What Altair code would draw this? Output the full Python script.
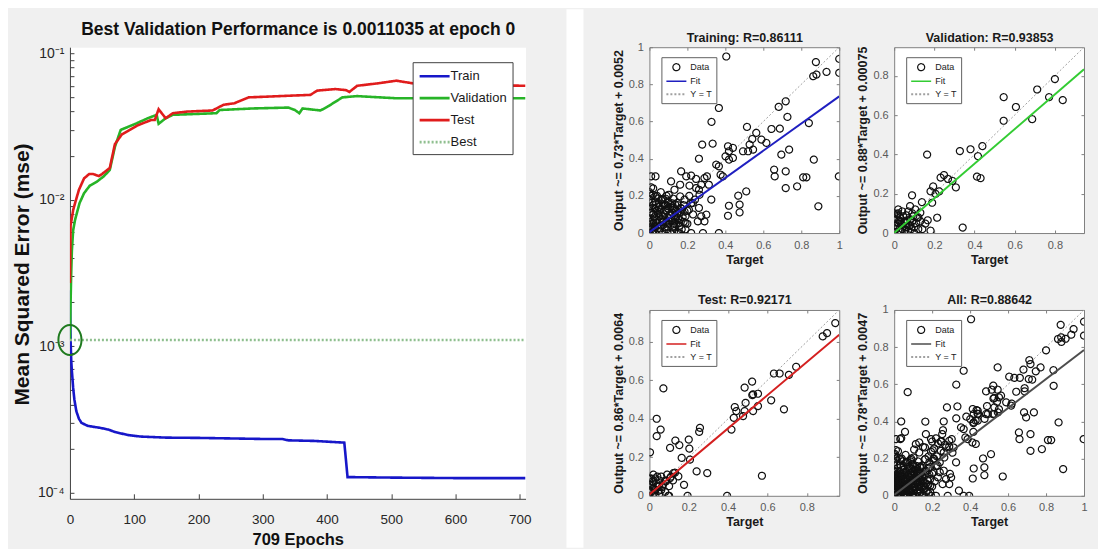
import altair as alt
import pandas as pd

SANS = "Liberation Sans, Arial, sans-serif"

# ---------------- performance panel data ----------------
train_epoch = [0, 1, 2, 3, 5, 7, 10, 14, 18, 28, 48, 60, 70, 90, 110, 150, 200, 250, 300, 330,
               340, 380, 427, 432, 500, 600, 709]
train_mse = [2.4e-3, 1.1e-3, 8.0e-4, 6.8e-4, 5.2e-4, 4.3e-4, 3.6e-4, 3.2e-4, 3.0e-4, 2.86e-4,
             2.77e-4, 2.7e-4, 2.6e-4, 2.48e-4, 2.42e-4, 2.38e-4, 2.37e-4, 2.35e-4, 2.33e-4, 2.33e-4,
             2.28e-4, 2.26e-4, 2.2e-4, 1.28e-4, 1.27e-4, 1.26e-4, 1.26e-4]
val_epoch = [0, 1, 2, 3, 5, 8, 12, 15, 22, 31, 42, 53, 62, 70, 79, 87, 104, 121, 135, 138,
             149, 160, 228, 233, 284, 340, 350, 357, 362, 390, 402, 424, 447, 508, 600, 709]
val_mse = [1.1035e-3, 2.0e-3, 3.2e-3, 4.5e-3, 6.2e-3, 7.3e-3, 8.5e-3, 9.5e-3, 1.11e-2, 1.25e-2,
           1.33e-2, 1.45e-2, 1.6e-2, 2.3e-2, 3.0e-2, 3.1e-2, 3.33e-2, 3.6e-2, 3.8e-2, 3.3e-2,
           3.6e-2, 3.8e-2, 3.9e-2, 4.1e-2, 4.2e-2, 4.26e-2, 4.1e-2, 3.9e-2, 4.2e-2, 4.07e-2,
           4.35e-2, 5.0e-2, 5.1e-2, 4.93e-2, 4.95e-2, 4.93e-2]
test_epoch = [0, 1, 3, 5, 8, 14, 22, 30, 36, 45, 50, 62, 70, 81, 93, 104, 126, 132, 138, 149,
              160, 183, 222, 239, 256, 278, 312, 340, 374, 385, 413, 430, 435, 447, 480, 508, 537, 600, 709]
test_mse = [2.7e-3, 6.7e-3, 7.5e-3, 8.5e-3, 9.5e-3, 1.17e-2, 1.4e-2, 1.5e-2, 1.5e-2, 1.45e-2,
            1.5e-2, 1.65e-2, 2.4e-2, 2.8e-2, 3.0e-2, 3.2e-2, 3.5e-2, 3.5e-2, 4.15e-2, 3.6e-2,
            3.9e-2, 4.0e-2, 4.07e-2, 4.45e-2, 4.56e-2, 5.0e-2, 5.07e-2, 5.13e-2, 5.2e-2, 5.56e-2,
            5.7e-2, 5.6e-2, 5.45e-2, 6.0e-2, 6.24e-2, 6.5e-2, 6.2e-2, 6.1e-2, 6.0e-2]
best_epoch = 0
best_perf = 0.0011035
last_epoch = 709

perf_series = ["Train", "Validation", "Test", "Best"]
perf_colors = ["#1717c9", "#27b427", "#e01c1c", "#8fbf8f"]
perf_dash = [[1, 0], [1, 0], [1, 0], [2, 2]]
perf_widths = [2.6, 2.6, 2.6, 1]
perf_title = "Best Validation Performance is 0.0011035 at epoch 0"
perf_xtitle = "709 Epochs"
perf_ytitle = "Mean Squared Error  (mse)"
perf_xticks = [0, 100, 200, 300, 400, 500, 600, 700]
perf_yticks = [1e-4, 1e-3, 1e-2, 1e-1]
perf_yexp = [-4, -3, -2, -1]
perf_ylabels = ["10\u207b\u2074", "10\u207b\u00b3", "10\u207b\u00b2", "10\u207b\u00b9"]
perf_yminor = [k * 10.0 ** d for d in (-4, -3, -2) for k in range(1, 10)] + [0.1]

# ---------------- regression panel data ----------------
train_pts = [
    (0.405, 0.95), (1.0, 0.937), (1.0, 0.862), (0.877, 0.92), (0.933, 0.867), (0.88, 0.853), (0.863, 0.844),
    (0.366, 0.673), (0.718, 0.709), (0.681, 0.679), (0.727, 0.625), (0.643, 0.56), (0.687, 0.562), (0.84, 0.592),
    (0.327, 0.598), (0.514, 0.571), (0.563, 0.539), (0.616, 0.485), (0.59, 0.503), (0.542, 0.506), (0.528, 0.476),
    (0.52, 0.44), (0.493, 0.44), (0.546, 0.449), (0.414, 0.467), (0.419, 0.44), (0.44, 0.458), (0.401, 0.413),
    (0.419, 0.395), (0.44, 0.404), (0.333, 0.481), (0.278, 0.476), (0.261, 0.4), (0.736, 0.449), (0.695, 0.422),
    (0.866, 0.395), (0.657, 0.341), (0.66, 0.305), (0.718, 0.332), (0.827, 0.3), (0.81, 0.3), (0.998, 0.305),
    (0.778, 0.251), (0.718, 0.242), (0.89, 0.144), (0.468, 0.201), (0.51, 0.224), (0.419, 0.147), (0.475, 0.153),
    (0.475, 0.111), (0.414, 0.093), (0.366, 0.0), (0.282, 0.0), (0.29, 0.063), (0.3, 0.099), (0.22, 0.0),
    (0.167, 0.332), (0.352, 0.368), (0.366, 0.359), (0.375, 0.314), (0.387, 0.305), (0.303, 0.305), (0.313, 0.26),
    (0.29, 0.296), (0.22, 0.309), (0.246, 0.291), (0.273, 0.26), (0.261, 0.233), (0.194, 0.305), (0.211, 0.255),
    (0.246, 0.242), (0.326, 0.18), (0.264, 0.206), (0.229, 0.162), (0.208, 0.126), (0.261, 0.135), (0.273, 0.09),
    (0.255, 0.063), (0.19, 0.054), (0.155, 0.0), (0.132, 0.036), (0.009, 0.305), (0.032, 0.305), (0.009, 0.246),
    (0.018, 0.206), (0.032, 0.197), (0.114, 0.278), (0.162, 0.26), (0.132, 0.233), (0.162, 0.197), (0.185, 0.18),
    (0.102, 0.206), (0.146, 0.162), (0.062, 0.18), (0.097, 0.162), (0.123, 0.144),
    (0.0, 0.0), (0.01, 0.02), (0.02, 0.05), (0.0, 0.08), (0.01, 0.11), (0.03, 0.0), (0.03, 0.03), (0.04, 0.07),
    (0.02, 0.1), (0.0, 0.13), (0.05, 0.01), (0.06, 0.04), (0.05, 0.09), (0.04, 0.12), (0.02, 0.15), (0.07, 0.0),
    (0.08, 0.03), (0.07, 0.06), (0.08, 0.1), (0.06, 0.13), (0.09, 0.02), (0.1, 0.05), (0.1, 0.08), (0.09, 0.12),
    (0.08, 0.15), (0.11, 0.0), (0.12, 0.03), (0.12, 0.07), (0.11, 0.1), (0.11, 0.14), (0.13, 0.01), (0.14, 0.05),
    (0.13, 0.09), (0.14, 0.12), (0.15, 0.0), (0.16, 0.04), (0.15, 0.08), (0.16, 0.11), (0.15, 0.15), (0.17, 0.02),
    (0.18, 0.06), (0.17, 0.13), (0.0, 0.18), (0.01, 0.2), (0.03, 0.17), (0.05, 0.16), (0.07, 0.18), (0.1, 0.17),
    (0.12, 0.16), (0.19, 0.09), (0.2, 0.12), (0.18, 0.15), (0.02, 0.07), (0.04, 0.04), (0.06, 0.1), (0.09, 0.06),
    (0.03, 0.13), (0.01, 0.05), (0.05, 0.14), (0.13, 0.05), (0.0, 0.03), (0.0, 0.11), (0.02, 0.01), (0.07, 0.09),
    (0.1, 0.13), (0.12, 0.11), (0.14, 0.09), (0.16, 0.07), (0.22, 0.16), (0.21, 0.2), (0.24, 0.18), (0.2, 0.05),
    (0.23, 0.1), (0.19, 0.02), (0.0, 0.22), (0.02, 0.24), (0.04, 0.2), (0.06, 0.22), (0.09, 0.2),
    (0.015, 0.035), (0.035, 0.055), (0.055, 0.025), (0.075, 0.045), (0.095, 0.035), (0.115, 0.065),
    (0.135, 0.075), (0.155, 0.055), (0.025, 0.085), (0.045, 0.105), (0.065, 0.075), (0.085, 0.125),
    (0.105, 0.095), (0.125, 0.135), (0.145, 0.105), (0.165, 0.135), (0.015, 0.135), (0.035, 0.155),
    (0.055, 0.115), (0.075, 0.155), (0.095, 0.145), (0.135, 0.155), (0.175, 0.085), (0.185, 0.115),
    (0.015, 0.165), (0.045, 0.185), (0.085, 0.185), (0.125, 0.185), (0.005, 0.06), (0.025, 0.015),
]
val_pts = [
    (0.8, 0.783), (0.712, 0.73), (0.771, 0.691), (0.839, 0.676), (0.545, 0.691), (0.606, 0.641), (0.687, 0.579),
    (0.545, 0.571), (0.439, 0.442), (0.327, 0.417), (0.38, 0.426), (0.417, 0.391), (0.412, 0.287), (0.43, 0.279),
    (0.164, 0.399), (0.248, 0.295), (0.231, 0.282), (0.268, 0.275), (0.29, 0.265), (0.307, 0.232), (0.194, 0.237),
    (0.224, 0.212), (0.206, 0.199), (0.181, 0.212), (0.189, 0.154), (0.138, 0.157), (0.089, 0.192), (0.214, 0.078),
    (0.341, 0.028), (0.167, 0.065), (0.155, 0.048), (0.181, 0.012), (0.113, 0.078), (0.13, 0.104), (0.105, 0.12),
    (0.079, 0.137),
    (0.0, 0.0), (0.01, 0.02), (0.02, 0.05), (0.0, 0.07), (0.03, 0.01), (0.04, 0.04), (0.03, 0.08), (0.05, 0.0),
    (0.06, 0.03), (0.05, 0.06), (0.06, 0.09), (0.07, 0.01), (0.08, 0.04), (0.08, 0.07), (0.1, 0.0), (0.1, 0.03),
    (0.09, 0.06), (0.11, 0.05), (0.02, 0.1), (0.0, 0.1), (0.04, 0.11), (0.07, 0.11), (0.12, 0.02), (0.12, 0.08),
    (0.01, 0.04), (0.03, 0.06), (0.13, 0.06), (0.02, 0.12), (0.04, 0.02), (0.01, 0.08), (0.06, 0.05), (0.09, 0.1),
    (0.14, 0.02), (0.0, 0.04), (0.015, 0.03), (0.035, 0.045), (0.055, 0.015), (0.075, 0.035), (0.025, 0.065),
    (0.045, 0.085), (0.065, 0.065), (0.015, 0.095), (0.085, 0.02), (0.095, 0.085),
]
test_pts = [
    (0.945, 0.897), (0.903, 0.845), (0.881, 0.828), (0.746, 0.67), (0.709, 0.628), (0.662, 0.635), (0.633, 0.635),
    (0.619, 0.496), (0.684, 0.449), (0.522, 0.593), (0.484, 0.562), (0.523, 0.523), (0.552, 0.53), (0.527, 0.527),
    (0.489, 0.483), (0.552, 0.466), (0.527, 0.44), (0.484, 0.44), (0.434, 0.461), (0.442, 0.44), (0.476, 0.414),
    (0.429, 0.405), (0.417, 0.344), (0.572, 0.104), (0.395, 0.0), (0.194, 0.0), (0.071, 0.558), (0.037, 0.4),
    (0.057, 0.344), (0.037, 0.31), (0.003, 0.226), (0.105, 0.249), (0.132, 0.287), (0.152, 0.263), (0.2, 0.292),
    (0.257, 0.353), (0.253, 0.332), (0.203, 0.245), (0.164, 0.197), (0.206, 0.188), (0.24, 0.127), (0.294, 0.118),
    (0.176, 0.057), (0.147, 0.101), (0.122, 0.118), (0.105, 0.092), (0.084, 0.075), (0.096, 0.0),
    (0.0, 0.0), (0.01, 0.02), (0.02, 0.04), (0.0, 0.06), (0.03, 0.0), (0.03, 0.03), (0.02, 0.07), (0.04, 0.05),
    (0.05, 0.01), (0.05, 0.08), (0.01, 0.09), (0.06, 0.03), (0.07, 0.06), (0.04, 0.1), (0.08, 0.02), (0.08, 0.08),
    (0.06, 0.1), (0.1, 0.05), (0.11, 0.1), (0.09, 0.11), (0.12, 0.08), (0.02, 0.11), (0.0, 0.03), (0.03, 0.09),
    (0.1, 0.0), (0.13, 0.12), (0.0, 0.09), (0.05, 0.05), (0.015, 0.05), (0.035, 0.065), (0.025, 0.015),
    (0.045, 0.025), (0.065, 0.045), (0.015, 0.075),
]
all_pts = train_pts + val_pts + test_pts

panel_titles = ["Training: R=0.86111", "Validation: R=0.93853", "Test: R=0.92171", "All: R=0.88642"]
panel_ytitles = ["Output ~= 0.73*Target + 0.0052", "Output ~= 0.88*Target + 0.00075",
                 "Output ~= 0.86*Target + 0.0064", "Output ~= 0.78*Target + 0.0047"]
panel_slopes = [0.73, 0.88, 0.86, 0.78]
panel_icpts = [0.0052, 0.00075, 0.0064, 0.0047]
panel_lims = [1.0, 0.945, 0.965, 1.0]
panel_fit_colors = ["#1f1fc0", "#33cc33", "#d42020", "#4d4d4d"]
ticks_to_1 = [0, 0.2, 0.4, 0.6, 0.8, 1.0]
ticks_to_08 = [0, 0.2, 0.4, 0.6, 0.8]
panel_ticks = [ticks_to_1, ticks_to_08, ticks_to_08, ticks_to_1]
legend_series = ["Data", "Fit", "Y = T"]

CIRCLE = "M-0.7,0A0.7,0.7 0 1,1 0.7,0A0.7,0.7 0 1,1 -0.7,0Z"
HLINE = "M-2,0H2"
ELLIPSE = "M-0.77,0A0.77,1 0 1,1 0.77,0A0.77,1 0 1,1 -0.77,0Z"

# ---------------- left: performance plot ----------------
rows = []
for name, ep, ms in [("Train", train_epoch, train_mse), ("Validation", val_epoch, val_mse),
                     ("Test", test_epoch, test_mse)]:
    for e, m in zip(ep, ms):
        rows.append({"epoch": e, "mse": m, "series": name})
for e in (best_epoch, last_epoch):
    rows.append({"epoch": e, "mse": best_perf, "series": "Best"})
perf_df = pd.DataFrame(rows)
best_df = pd.DataFrame({"epoch": [best_epoch], "mse": [best_perf]})
one = pd.DataFrame({"k": [0]})

LW, LH = 456, 452
xs = alt.Scale(domain=[0, last_epoch], nice=False, zero=False)
ys = alt.Scale(type="log", domain=[9.1e-5, 0.11], nice=False)

label_expr = " : ".join(
    f"round(log(datum.value)/LN10) == {e} ? '{lab}'" for e, lab in zip(perf_yexp, perf_ylabels)) + " : ''"

x_axis_main = alt.Axis(values=perf_xticks, format="d", grid=False, tickSize=0, labelFlush=False,
                       labelFont=SANS, labelFontSize=13.5, labelColor="#262626", labelPadding=14,
                       domainColor="#404040", title=perf_xtitle, titleFont=SANS, titleFontSize=16.5,
                       titleFontWeight="bold", titleColor="#111111", titlePadding=5)
y_axis_main = alt.Axis(values=perf_yticks, labelExpr=label_expr, grid=False, tickSize=0,
                       labelFont=SANS, labelFontSize=14, labelColor="#262626", labelPadding=6,
                       domainColor="#404040", title=perf_ytitle, titleFont=SANS, titleFontSize=21,
                       titleFontWeight="bold", titleColor="#111111", titleAngle=270,
                       titleX=-47, titleY=227, titleAlign="center", titleBaseline="middle")
x_axis_ticks = alt.Axis(values=perf_xticks, orient="bottom", offset=-5, tickSize=5, labels=False,
                        domain=False, grid=False, title=None, tickColor="#404040")
y_axis_ticks = alt.Axis(values=perf_yminor, orient="left", offset=-4, tickSize=4, labels=False,
                        domain=False, grid=False, title=None, tickColor="#404040")
x_axis_title = alt.Axis(orient="top", labels=False, ticks=False, domain=False, grid=False,
                        title=perf_title, titleFont=SANS, titleFontSize=17.5, titleFontWeight="bold",
                        titleColor="#111111", titleX=LW / 2, titleY=-18, titleAlign="center",
                        titleBaseline="middle")

perf_legend = alt.Legend(title=None, orient="none", legendX=343, legendY=15, symbolType=HLINE,
                         symbolSize=225, labelFont=SANS, labelFontSize=13, labelColor="#1a1a1a",
                         fillColor="white", strokeColor="#404040", padding=5, rowPadding=6,
                         symbolOffset=8, labelOffset=7)

scaffold = alt.Chart(one).mark_rect(fill="white", opacity=0).encode(
    x=alt.value(-61), x2=alt.value(497), y=alt.value(-38), y2=alt.value(501))
gap = alt.Chart(one).mark_rect(fill="white").encode(
    x=alt.value(497), x2=alt.value(514), y=alt.value(-38), y2=alt.value(501))

lines = alt.Chart(perf_df).mark_line(clip=True).encode(
    x=alt.X("epoch:Q", scale=xs, axis=x_axis_main),
    y=alt.Y("mse:Q", scale=ys, axis=y_axis_main),
    color=alt.Color("series:N", scale=alt.Scale(domain=perf_series, range=perf_colors), legend=perf_legend),
    strokeDash=alt.StrokeDash("series:N", scale=alt.Scale(domain=perf_series, range=perf_dash),
                              legend=perf_legend),
    strokeWidth=alt.StrokeWidth("series:N", scale=alt.Scale(domain=perf_series, range=perf_widths),
                                legend=perf_legend),
)
best_mark = alt.Chart(best_df).mark_point(shape=ELLIPSE, size=900, filled=False, stroke="#1f7a1f",
                                          strokeWidth=2, opacity=1).encode(
    x=alt.X("epoch:Q", scale=xs, axis=x_axis_ticks),
    y=alt.Y("mse:Q", scale=ys, axis=y_axis_ticks),
)
title_layer = alt.Chart(best_df).mark_point(opacity=0).encode(
    x=alt.X("epoch:Q", scale=xs, axis=x_axis_title),
    y=alt.Y("mse:Q", scale=ys, axis=None),
)

left = alt.layer(scaffold, gap, lines, best_mark, title_layer).resolve_axis(
    x="independent", y="independent").properties(
    width=LW, height=LH,
    view=alt.ViewBackground(fill="white", stroke="transparent"),
)

# ---------------- right: regression plots ----------------
PW, PH = 190, 186
FRAME = "#808080"


def sc_axis(ticks, title):
    return alt.Axis(values=ticks, format="~g", title=title, grid=False, domain=False, tickSize=0,
                    labelFlush=False, labelFont=SANS, labelFontSize=11, labelColor="#5a5a5a",
                    labelPadding=6, titleFont=SANS, titleFontSize=12.5, titleFontWeight="bold",
                    titleColor="#1a1a1a", titlePadding=3)


def tick_axis(ticks, orient):
    return alt.Axis(values=ticks, orient=orient, offset=-3, tickSize=3, labels=False, domain=False,
                    grid=False, title=None, tickColor=FRAME)


def panel(i, pts, extra=None):
    lim = panel_lims[i]
    ticks = panel_ticks[i]
    df = pd.DataFrame({"target": [p[0] for p in pts], "output": [p[1] for p in pts], "series": "Data"})
    fit_df = pd.DataFrame({"target": [0, lim],
                           "output": [panel_icpts[i], panel_slopes[i] * lim + panel_icpts[i]]})
    yt_df = pd.DataFrame({"target": [0, lim], "output": [0, lim]})
    sx = alt.Scale(domain=[0, lim], nice=False, zero=False)
    sy = alt.Scale(domain=[0, lim], nice=False, zero=False)
    xa = sc_axis(ticks, "Target")
    ya = sc_axis(ticks, panel_ytitles[i])
    ta = alt.Axis(values=ticks, orient="top", offset=-3, tickSize=3, tickColor=FRAME, labels=False,
                  domain=False, grid=False, title=panel_titles[i], titleFont=SANS, titleFontSize=12.5,
                  titleFontWeight="bold", titleColor="#1a1a1a", titleX=PW / 2, titleY=-13,
                  titleAlign="center", titleBaseline="middle")
    leg = alt.Legend(title=None, orient="none", legendX=12, legendY=10, fillColor="white",
                     strokeColor="#606060", padding=4, labelFont=SANS, labelFontSize=9,
                     labelColor="#222222", rowPadding=2, symbolOffset=5, labelOffset=8)
    yt = alt.Chart(yt_df).mark_line(color="#a0a0a0", strokeDash=[2, 2], strokeWidth=1, clip=True).encode(
        x=alt.X("target:Q", scale=sx, axis=ta), y=alt.Y("output:Q", scale=sy, axis=tick_axis(ticks, "right")))
    pts_c = alt.Chart(df).mark_point(filled=False, size=100, opacity=1, clip=True).encode(
        x=alt.X("target:Q", scale=sx, axis=xa),
        y=alt.Y("output:Q", scale=sy, axis=ya),
        shape=alt.Shape("series:N", scale=alt.Scale(domain=legend_series, range=[CIRCLE, HLINE, HLINE]),
                        legend=leg),
        color=alt.Color("series:N", scale=alt.Scale(domain=legend_series,
                                                    range=["#111111", panel_fit_colors[i], "#a0a0a0"]),
                        legend=leg),
        strokeDash=alt.StrokeDash("series:N", scale=alt.Scale(domain=legend_series,
                                                              range=[[1, 0], [1, 0], [2, 2]]), legend=leg),
        strokeWidth=alt.StrokeWidth("series:N", scale=alt.Scale(domain=legend_series, range=[1.2, 2, 1]),
                                    legend=leg),
    )
    fit = alt.Chart(fit_df).mark_line(color=panel_fit_colors[i], strokeWidth=2, clip=True).encode(
        x=alt.X("target:Q", scale=sx, axis=tick_axis(ticks, "bottom")),
        y=alt.Y("output:Q", scale=sy, axis=tick_axis(ticks, "left")))
    layers = [yt, pts_c, fit] + (extra or [])
    return alt.layer(*layers).resolve_axis(x="independent", y="independent").properties(
        width=PW, height=PH,
        view=alt.ViewBackground(fill="white", stroke=FRAME, strokeWidth=1),
    )


test_scaffold = alt.Chart(one).mark_rect(fill="white", opacity=0).encode(
    x=alt.value(-64), x2=alt.value(-60), y=alt.value(-300), y2=alt.value(-296))
all_scaffold = alt.Chart(one).mark_rect(fill="white", opacity=0).encode(
    x=alt.value(200), x2=alt.value(203), y=alt.value(0), y2=alt.value(3))

indep = dict(color="independent", shape="independent", strokeDash="independent",
             strokeWidth="independent")

grid = alt.concat(
    panel(0, train_pts), panel(1, val_pts), panel(2, test_pts, [test_scaffold]),
    panel(3, all_pts, [all_scaffold]),
    columns=2, spacing=alt.RowColnumber(row=77, column=55), bounds="flush",
).resolve_scale(**indep).resolve_legend(**indep)

chart = alt.hconcat(left, grid, spacing=0).resolve_scale(**indep).resolve_legend(**indep).properties(
    padding=0).configure(background="#f0f0f0").configure_view(fill="white")

chart.save("out.html", embed_options={"renderer": "svg", "actions": False})
